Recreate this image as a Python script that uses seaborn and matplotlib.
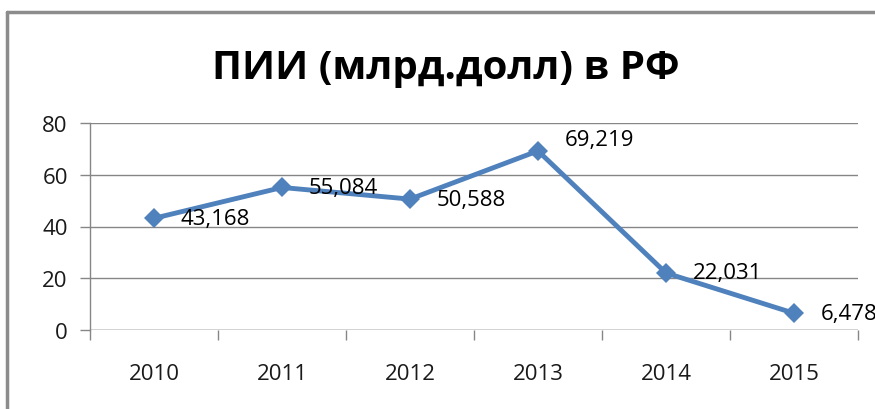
import matplotlib
matplotlib.use("Agg")
import matplotlib.pyplot as plt
import seaborn as sns
import pandas as pd
from matplotlib.lines import Line2D

# data
years = ["2010", "2011", "2012", "2013", "2014", "2015"]
fdi = [43.168, 55.084, 50.588, 69.219, 22.031, 6.478]
labels = ["43,168", "55,084", "50,588", "69,219", "22,031", "6,478"]

title = "ПИИ (млрд.долл) в РФ"

sns.set_style("white")
plt.rcParams["font.family"] = ["Open Sans", "DejaVu Sans"]

df = pd.DataFrame({"year": years, "value": fdi})

fig = plt.figure(figsize=(8.75, 4.1), dpi=100)
ax = fig.add_axes([90 / 875, 1 - 331 / 410, (858 - 90) / 875, (331 - 124) / 410])

sns.lineplot(data=df, x="year", y="value", ax=ax, color="#4F81BD",
             linewidth=3.5, marker="D", markersize=10, markeredgewidth=0,
             sort=False, zorder=3)

grid_col = "#868686"
ax.set_ylim(0, 80)
ax.set_yticks(range(0, 81, 20))
ax.set_xlim(-0.5, len(years) - 0.5)
ax.yaxis.grid(True, color=grid_col, linewidth=1)
ax.xaxis.grid(False)
for s in ["top", "right", "bottom"]:
    ax.spines[s].set_visible(False)
ax.spines["left"].set_color(grid_col)
ax.spines["left"].set_linewidth(1)
ax.axhline(0, color=grid_col, linewidth=1, zorder=2)

ax.tick_params(axis="y", left=True, length=7, color=grid_col, width=1,
               labelsize=16, pad=9, labelcolor="#1a1a1a")
ax.tick_params(axis="x", which="major", bottom=True, length=0, labelsize=16,
               pad=24, labelcolor="#1a1a1a")
ax.set_xticks([i - 0.5 for i in range(len(years) + 1)], minor=True)
ax.tick_params(axis="x", which="minor", bottom=True, length=7,
               color=grid_col, width=1)
ax.set_xlabel("")
ax.set_ylabel("")

# data labels to the right of points
for i, (v, lab) in enumerate(zip(fdi, labels)):
    dy = 8 if i == 3 else 0
    ax.annotate(lab, (i, v), xytext=(19, dy), textcoords="offset points",
                ha="left", va="center", fontsize=16, color="#000000",
                annotation_clip=False)

fig.text(446 / 875, 1 - 68 / 410, title, ha="center", va="center",
         fontsize=29, fontweight="bold", color="#000000")

# chart frame
fig.add_artist(Line2D([7 / 875, 7 / 875], [0, 1 - 13 / 410],
                      transform=fig.transFigure, color="#8c8c8c", linewidth=2.5))
fig.add_artist(Line2D([7 / 875, 1], [1 - 13 / 410, 1 - 13 / 410],
                      transform=fig.transFigure, color="#8c8c8c", linewidth=2.5))

fig.savefig("out.png", dpi=100)
